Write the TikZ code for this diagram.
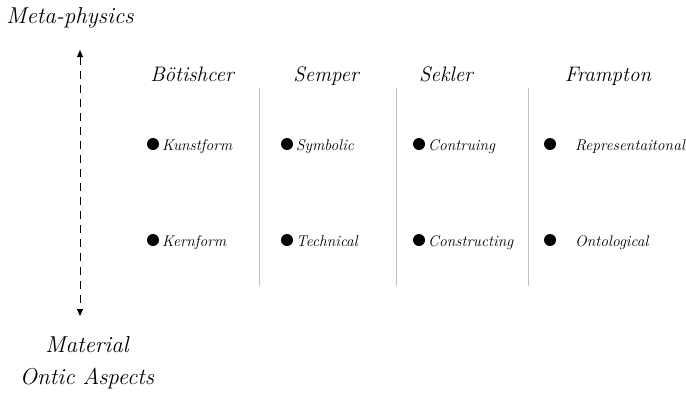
\documentclass[tikz,border=0pt]{standalone}
\usepackage{fontspec}
\usetikzlibrary{arrows.meta}
\begin{document}
\begin{tikzpicture}[x=1pt,y=-1pt,
  axislabel/.style={font=\fontsize{23}{26}\selectfont\itshape, align=center, inner sep=0pt},
  header/.style={font=\fontsize{21}{24}\selectfont\itshape, inner sep=0pt, anchor=base},
  item/.style={font=\fontsize{15.5}{17}\selectfont\itshape, anchor=base west, inner sep=0pt},
  dot/.style={circle, fill=black, minimum size=12pt, inner sep=0pt},
  divider/.style={draw=black!25, line width=0.8pt},
  axis/.style={dashed, dash pattern=on 8pt off 6pt, line width=0.8pt, {Triangle[length=7pt,width=6pt]}-{Triangle[length=7pt,width=6pt]}}]
\useasboundingbox (0,0) rectangle (686,397);

% vertical axis
\node[axislabel] (meta) at (70,18) {Meta-physics};
\node[axislabel] (material) at (87,363) {Material\\[6pt]Ontic Aspects};
\coordinate (top) at (80,50);
\coordinate (bot) at (80,316);
\draw[axis] (top) -- (bot);

% column headers
\node[header] (h1) at (192,81) {Bötishcer};
\node[header] (h2) at (326,81) {Semper};
\node[header] (h3) at (446,81) {Sekler};
\node[header] (h4) at (608,81) {Frampton};

% column dividers
\foreach \x/\n in {259/a,396/b,528/c} {
  \coordinate (d\n1) at (\x,88);
  \coordinate (d\n2) at (\x,286);
  \draw[divider] (d\n1) -- (d\n2);
}

% first row
\node[dot] (b11) at (153,144) {};
\node[item] (t11) at (162,150) {Kunstform};
\node[dot] (b12) at (287,144) {};
\node[item] (t12) at (296,150) {Symbolic};
\node[dot] (b13) at (419,144) {};
\node[item] (t13) at (428,150) {Contruing};
\node[dot] (b14) at (550,144) {};
\node[item] (t14) at (575,150) {Representaitonal};

% second row
\node[dot] (b21) at (153,240) {};
\node[item] (t21) at (162,246) {Kernform};
\node[dot] (b22) at (287,240) {};
\node[item] (t22) at (296,246) {Technical};
\node[dot] (b23) at (419,240) {};
\node[item] (t23) at (428,246) {Constructing};
\node[dot] (b24) at (550,240) {};
\node[item] (t24) at (575,246) {Ontological};
\end{tikzpicture}
\end{document}
